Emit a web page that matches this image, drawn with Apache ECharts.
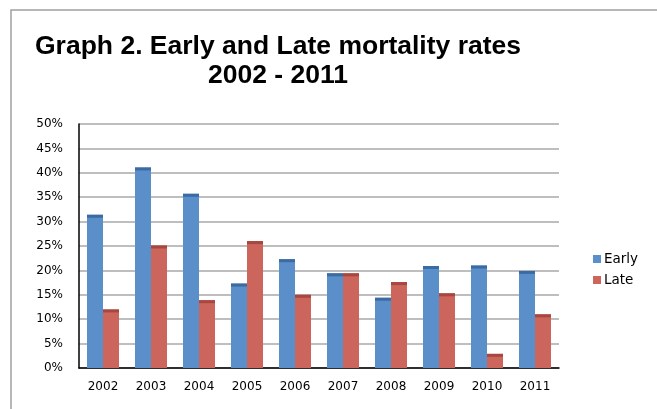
<!DOCTYPE html>
<html>
<head>
<meta charset="utf-8">
<script src="https://cdn.jsdelivr.net/npm/echarts@6/dist/echarts.min.js"></script>
<style>
  html, body { margin: 0; padding: 0; background: #fff; }
  #chart { width: 657px; height: 409px; }
</style>
</head>
<body>
<div id="chart"></div>
<script>
// Mortality rates per year, in percent
const years = ['2002', '2003', '2004', '2005', '2006', '2007', '2008', '2009', '2010', '2011'];
const early = [31.4, 41.1, 35.7, 17.3, 22.3, 19.4, 14.4, 20.9, 21.0, 19.9];
const late  = [12.0, 25.1, 13.9, 26.0, 15.0, 19.4, 17.6, 15.3, 2.9, 11.0];
const seriesNames = ['Early', 'Late'];
const titleLines = ['Graph 2. Early and Late mortality rates', '2002 - 2011'];

const blue = '#5b8fc9', blueTop = '#3c6aa3';
const red = '#cc665c', redTop = '#a8473f';
const BAR_W = 16;

const chart = echarts.init(document.getElementById('chart'), null, { renderer: 'canvas' });

function column(name, data, color) {
  return {
    name, type: 'bar', data,
    barWidth: BAR_W, barGap: '0%',
    itemStyle: { color },
    emphasis: { disabled: true },
    z: 2
  };
}
// thin darker cap along the top of each column
function cap(name, data, color) {
  return {
    name, type: 'pictorialBar', data,
    symbol: 'rect', symbolSize: [BAR_W, 3], symbolPosition: 'end',
    barWidth: BAR_W, barGap: '0%',
    itemStyle: { color },
    emphasis: { disabled: true },
    z: 3
  };
}

chart.setOption({
  animation: false,
  backgroundColor: '#fff',
  graphic: [{
    type: 'rect',
    shape: { x: 11, y: 10, width: 700, height: 500 },
    style: { fill: 'none', stroke: '#a0a0a0', lineWidth: 1.5 },
    silent: true
  }],
  title: {
    text: titleLines.join('\n'),
    left: 273, top: 27,
    textAlign: 'center',
    textStyle: {
      fontFamily: 'Liberation Sans', fontWeight: 'bold',
      fontSize: 26.5, lineHeight: 29, color: '#000'
    }
  },
  legend: {
    data: seriesNames,
    orient: 'vertical',
    left: 588, top: 247,
    itemWidth: 8, itemHeight: 8, itemGap: 7,
    icon: 'rect',
    textStyle: { fontFamily: 'DejaVu Sans', fontSize: 13.5, color: '#000', padding: [0, 0, 0, -2] }
  },
  grid: { left: 79, right: 98, top: 124, bottom: 41, containLabel: false },
  xAxis: {
    type: 'category',
    data: years,
    axisLine: { lineStyle: { color: '#000', width: 1.5 } },
    axisTick: { show: false },
    axisLabel: { fontFamily: 'DejaVu Sans', fontSize: 12, color: '#000', margin: 13 }
  },
  yAxis: {
    type: 'value',
    min: 0, max: 50, interval: 5,
    axisLine: { show: true, lineStyle: { color: '#000', width: 1.5 } },
    axisTick: { show: false },
    splitLine: { lineStyle: { color: '#a8a8a8', width: 1.5 } },
    axisLabel: { fontFamily: 'DejaVu Sans', fontSize: 12, color: '#000', margin: 16, formatter: '{value}%' }
  },
  series: [
    column(seriesNames[0], early, blue),
    column(seriesNames[1], late, red),
    cap(seriesNames[0], early, blueTop),
    cap(seriesNames[1], late, redTop)
  ]
});
</script>
</body>
</html>
